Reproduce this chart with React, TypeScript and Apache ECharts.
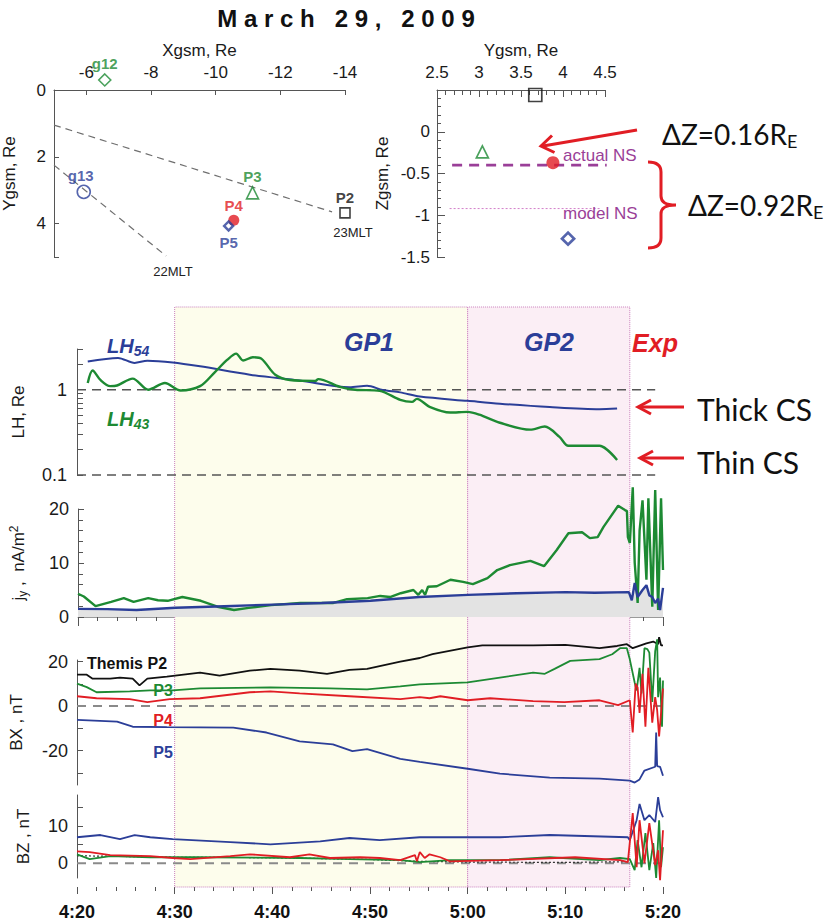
import React, { useEffect, useRef } from "react";
import * as echarts from "echarts";

const SANS = "'Liberation Sans', Arial, Helvetica, sans-serif";
const CAL = "Lato, 'Open Sans', 'DejaVu Sans', sans-serif";
const BLUE = "#2b3e98";
const GREEN = "#1d8a33";
const RED = "#e11d24";
const BLACK = "#111111";
const PURPLE = "#9a3f98";
const AXIS = "#555555";

// ---------- Panel a: GSM X–Y positions ----------
const xyNames = ["g12", "g13", "P3", "P4", "P5", "P2"];
const xyX = [-6.57, -5.92, -11.14, -10.56, -10.4, -14.0];
const xyY = [-0.3, 3.05, 3.08, 3.9, 4.07, 3.68];
const mlt23Line = [[-5, 1.05], [-13.6, 3.65]];
const mlt22Line = [[-5, 2.25], [-8.47, 4.97]];
const xyXTicks = [-6, -8, -10, -12, -14];
const xyYLabels = [0, 2, 4];
const xyYTicks = [0, 2, 4, 5];

// ---------- Panel b: GSM Y–Z positions ----------
const yzNames = ["P2", "P3", "P4", "P5"];
const yzY = [3.67, 3.04, 3.88, 4.06];
const yzZ = [0.44, -0.24, -0.37, -1.28];
const actualNS = [[2.68, -0.4], [4.52, -0.4]];
const modelNS = [[2.65, -0.92], [4.45, -0.92]];
const yzZLabels = [-1.5, -1, -0.5, 0];

// ---------- Time series (minutes after 4:20 UT) ----------
const phaseEdges = [10, 40, 56.6]; // GP1 start, GP2 start, expansion onset
const lhRefLevels = [1, 0.1];
const lhRefEnd = 59.2;

const lh54 = [
  [1.1, 2.14], [4.2, 2.36], [5.9, 2.06], [7.2, 2.19], [9.8, 2.09], [12.6, 1.88],
  [17.7, 1.5], [22.8, 1.28], [27.9, 1.07], [29.7, 1.11], [31.3, 0.99], [33.1, 0.93],
  [35.1, 0.83], [40, 0.74], [43.3, 0.685], [48.4, 0.625], [53.5, 0.59], [55.3, 0.6],
];
const lh43 = [
  [1.1, 1.2], [1.6, 1.68], [2.4, 1.3], [3.4, 1.1], [4.1, 1.12], [5.7, 1.35], [7.3, 1.0],
  [9.0, 1.2], [10.6, 0.98], [12.6, 1.1], [14.1, 1.6], [15.4, 2.25], [16.3, 2.65], [17.0, 2.2],
  [18.0, 2.4], [18.9, 2.3], [20.3, 1.5], [21.8, 1.3], [24.4, 1.27], [24.7, 1.33], [26.9, 1.08],
  [28.5, 1.0], [31.0, 0.97], [33.1, 0.76], [34.3, 0.72], [34.8, 0.78], [36.1, 0.63],
  [38.2, 0.54], [40.0, 0.55], [41.2, 0.51], [43.3, 0.41], [46.4, 0.34], [47.9, 0.37],
  [49.4, 0.28], [50.3, 0.22], [52.5, 0.22], [53.5, 0.22], [55.3, 0.15],
];

const jyBlue = [
  [0, 1.5], [3, 1.45], [6, 1.3], [10, 1.7], [15, 2.0], [20, 2.3], [25, 2.6], [30, 3.0],
  [35, 3.7], [40, 4.1], [45, 4.4], [50, 4.6], [53, 4.5], [56.5, 4.6], [56.8, 3.1], [57.1, 6.3],
  [57.4, 3.7], [57.9, 5.0], [58.3, 5.9], [58.6, 4.0], [58.9, 3.7], [59.2, 2.6], [59.5, 3.4],
  [59.7, 1.3], [60, 5.4],
];
const jyGreen = [
  [0, 4.3], [0.6, 3.8], [1.8, 2.0], [3.4, 2.8], [4.7, 3.5], [5.7, 2.8], [7.2, 3.5], [8.2, 3.1],
  [9.2, 3.0], [10.7, 3.7], [12.6, 3.0], [14.3, 1.9], [16.0, 1.3], [17.5, 1.7], [19.8, 2.2],
  [22.8, 2.6], [26.2, 2.6], [27.6, 3.3], [29.7, 3.5], [31.0, 3.9], [32.0, 3.7], [33.1, 4.4],
  [34.4, 5.0], [34.9, 4.1], [35.3, 5.0], [35.6, 4.1], [35.9, 5.6], [36.8, 5.7], [38.2, 6.9],
  [39.5, 6.5], [40.5, 6.1], [42.0, 7.2], [43.0, 8.7], [44.3, 9.6], [46.4, 10.4], [47.8, 9.4],
  [49.1, 12.4], [50.3, 15.5], [51.7, 15.7], [52.5, 14.6], [53.3, 14.8], [53.9, 16.7],
  [55.4, 20.6], [56.1, 19.8], [56.3, 19.6], [56.4, 14.8], [56.6, 13.7], [56.9, 24], [57.1, 10],
  [57.4, 2.6], [57.6, 16], [57.9, 21.6], [58.3, 6.9], [58.5, 22], [58.9, 1.9], [59.2, 23.5],
  [59.5, 1.3], [59.8, 22], [60, 8.7],
];

const bxP2 = [
  [0, 14.1], [1.0, 14.1], [1.6, 12.3], [3.4, 12.3], [4.4, 12.8], [5.7, 12.3], [6.4, 9.3],
  [7.2, 12.3], [9.2, 13.2], [12.6, 15.0], [14.6, 13.7], [17.7, 15.9], [19.8, 16.7], [22.8, 15.9],
  [25.6, 14.5], [27.9, 16.3], [29.7, 16.7], [33.1, 20.0], [35.1, 21.6], [36.4, 23.3], [40, 26.4],
  [41.5, 27.3], [46.7, 27.3], [50, 27.5], [53.5, 26.0], [55.3, 27], [56.3, 27.8], [56.9, 26],
  [58.3, 28.2], [59.0, 29], [59.5, 27.8], [59.6, 31], [59.8, 27.3], [60, 27.3],
];
const bxP3 = [
  [0, 10.1], [1.0, 8.5], [2.0, 6.2], [5.4, 6.6], [7.5, 7.0], [9.8, 7.0], [12.6, 7.9], [19.8, 8.4],
  [25.9, 7.9], [29.7, 7.5], [33.1, 8.8], [35.1, 9.7], [40, 10.6], [43.3, 12.8], [46.7, 15.0],
  [47.9, 14.5], [48.9, 16.7], [50.5, 20.3], [53.5, 21.1], [54.8, 23.3], [55.6, 26], [56.3, 26],
  [56.6, 21], [57.1, 10.6], [57.3, 7.0], [57.6, 17.2], [57.8, 5.7], [58.1, 26], [58.4, 25.6],
  [58.6, 24], [58.9, 1.8], [59.2, 24.7], [59.4, 30], [59.5, 4], [59.7, 12.8], [59.9, -9.3],
  [60, 11.5],
];
const bxP4 = [
  [0, 4.4], [2.0, 3.5], [5.4, 3.1], [7.2, 1.8], [9.5, 3.1], [12.6, 3.5], [17.7, 6.2], [19.8, 6.6],
  [22.8, 5.7], [27.9, 4.4], [33.1, 3.1], [35.1, 4.0], [36.1, 3.5], [37.2, 4.4], [40, 2.6],
  [42.3, 3.5], [46.7, 2.2], [49.9, 1.8], [53.5, 2.6], [55.4, 0.4], [56.6, 2.6], [56.9, -11.9],
  [57.2, 10.1], [57.4, 8.4], [57.6, -3.1], [57.9, 14.5], [58.2, -9.3], [58.5, 17.2], [58.9, -7.5],
  [59.2, 4], [59.4, -1.8], [59.6, -13.7], [59.8, -3], [60, 7.9],
];
const bxP5 = [
  [0, -6.2], [4.1, -7], [5.7, -9.3], [9.2, -9.5], [16, -9.7], [19.4, -11.9], [22.8, -15.9],
  [26.2, -17.2], [28.2, -20.3], [29.7, -19.4], [33.1, -23.8], [35.1, -25.1], [40, -28.2],
  [43.3, -30.4], [48.4, -32.2], [53.5, -32.6], [56.6, -33.5], [57.1, -34.4], [57.6, -33],
  [58.1, -29], [59.2, -27.3], [59.3, -11.9], [59.4, -27], [59.7, -27.3], [60, -31.3],
];

const bzP5 = [
  [0, 7.0], [2.4, 7.6], [4.4, 6.5], [5.9, 7.6], [7.5, 7.0], [9.8, 6.5], [15.7, 5.7], [19.8, 5.1],
  [24.9, 5.9], [27.9, 6.8], [31, 6.2], [35.1, 7.0], [43.3, 7.0], [48.4, 7.6], [56.4, 7.0],
  [56.6, 6.2], [57.3, 11.6], [57.6, 16], [58.1, 11.6], [58.6, 13], [59.2, 11.1], [59.5, 17.8],
  [59.7, 14.3], [60, 12.4],
];
const bzP4 = [
  [0, 3.2], [1.3, 3.0], [3.4, 2.2], [7.5, 1.9], [9.8, 1.4], [11.6, 1.1], [15.7, 1.9], [17.7, 2.4],
  [21.8, 1.6], [23.8, 2.4], [25.9, 1.4], [29, 1.6], [31, 1.4], [33.1, 0.8], [34.6, 2.2],
  [34.8, 0.5], [35.1, 3.0], [35.6, 1.4], [36.1, 2.4], [37.2, 1.6], [38.2, 0.5], [43.3, 0.8],
  [51, 1.6], [55.6, 0.8], [56.4, 0.3], [56.9, 13.5], [57.3, -1.1], [57.6, 11.6], [58.1, 0],
  [58.6, 10.8], [59.2, -0.5], [59.5, 3.5], [59.7, -4.6], [60, 8.9],
];
const bzP3 = [
  [0, 2.4], [1.3, 1.1], [3.4, 1.9], [7.5, 1.6], [12.6, 1.6], [22.8, 1.4], [27.9, 1.1], [33.1, 0.8],
  [35.1, 0.3], [38.2, 0.8], [43.3, 0.8], [48.4, 1.6], [53.5, 0.8], [55.6, 1.4], [56.6, 1.1],
  [57.1, -1.9], [57.4, 6.2], [57.8, -1.1], [58.2, 8.1], [58.6, -1.9], [59, 5.4], [59.3, -4],
  [59.6, 11.6], [59.8, -1.1], [60, 4.3],
];
const bzP2 = [
  [0, 2.0], [5, 1.8], [10, 1.6], [20, 1.5], [30, 1.0], [35, 0.5], [40, 0.3], [50, 0.2], [56.4, 0.4],
];

const zeroLine = [[0, 0], [60, 0]];

// ---------- helpers ----------
function fmtTime(v: number) {
  const m = 260 + Math.round(v);
  return `${Math.floor(m / 60)}:${String(m % 60).padStart(2, "0")}`;
}

const markerStyle: Record<string, any> = {
  g12: { symbol: "diamond", size: 12, color: GREEN, filled: false, pos: "top", offset: [0, 0] },
  g13: { symbol: "circle", size: 13, color: BLUE, filled: false, pos: "top", offset: [-3, 0] },
  P3: { symbol: "triangle", size: 12, color: GREEN, filled: false, pos: "top", offset: [0, 0] },
  P4: { symbol: "circle", size: 11, color: RED, filled: true, pos: "top", offset: [0, 0] },
  P5: { symbol: "diamond", size: 9, color: BLUE, filled: false, pos: "bottom", offset: [0, 1] },
  P2: { symbol: "rect", size: 10, color: BLACK, filled: false, pos: "top", offset: [0, 0] },
};
const yzStyle: Record<string, any> = {
  P2: { symbol: "rect", size: 13, color: BLACK, filled: false },
  P3: { symbol: "triangle", size: 12, color: GREEN, filled: false },
  P4: { symbol: "circle", size: 13, color: RED, filled: true },
  P5: { symbol: "diamond", size: 12, color: BLUE, filled: false },
};

echarts.graphic.registerShape(
  "brace",
  echarts.graphic.extendPath(
    "M0 0 C8 0 13 3 13 10 L13 34 C13 40 17 43 28 43 C17 43 13 46 13 52 L13 76 C13 83 8 86 0 86",
    {}
  )
);

const tickLbl = (size: number) => ({ color: "#1a1a1a", fontSize: size, fontFamily: SANS });
const nameStyle = { color: "#1a1a1a", fontSize: 17, fontFamily: SANS };
const axLine = { show: true, onZero: false, lineStyle: { color: AXIS, width: 1 } };
const tkLine = { color: AXIS, width: 1 };

const mainX = (gi: number, extra: any = {}) => ({
  gridIndex: gi,
  type: "value",
  min: 0,
  max: 60,
  interval: 10,
  splitLine: { show: false },
  axisLine: { show: false, onZero: false },
  axisTick: { show: false },
  axisLabel: { show: false },
  ...extra,
});

const lineSeries = (xi: number, data: any, color: string, width: number, extra: any = {}) => ({
  type: "line",
  xAxisIndex: xi,
  yAxisIndex: xi,
  data,
  symbol: "none",
  silent: true,
  clip: false,
  lineStyle: { color, width },
  z: 3,
  ...extra,
});

const txt = (x: number, y: number, text: string, font: string, fill: string, align = "left", extra: any = {}) => ({
  type: "text",
  x,
  y,
  z: 100,
  silent: true,
  style: { text, font, fill, textAlign: align, textVerticalAlign: "middle", verticalAlign: "middle", ...extra },
});

const arrowHead = (pts: number[][]) => ({
  type: "polyline",
  silent: true,
  z: 100,
  shape: { points: pts },
  style: { stroke: RED, lineWidth: 3, fill: "none" },
});

const richSub = (x: number, y: number, main: string, sub: string, color: string, big: number, small: number, family: string, bold: boolean, pad: number) => ({
  type: "text",
  x,
  y,
  z: 100,
  silent: true,
  style: {
    text: `{a|${main}}{s|${sub}}`,
    textVerticalAlign: "middle",
    verticalAlign: "middle",
    rich: {
      a: { fontSize: big, fontFamily: family, fill: color, fontWeight: bold ? "bold" : "normal", fontStyle: bold ? "italic" : "normal" },
      s: { fontSize: small, fontFamily: family, fill: color, fontWeight: bold ? "bold" : "normal", fontStyle: bold ? "italic" : "normal", padding: [pad, 0, 0, 0] },
    },
  },
});

function buildOption() {
  return {
    animation: false,
    backgroundColor: "#ffffff",
    grid: [
      { left: 52, top: 90, width: 293, height: 167 },
      { left: 437, top: 90, width: 168, height: 167 },
      { left: 77, top: 307, width: 586, height: 580 },
      { left: 77, top: 349, width: 586, height: 126 },
      { left: 77, top: 509, width: 586, height: 108 },
      { left: 77, top: 660, width: 586, height: 125 },
      { left: 77, top: 795, width: 586, height: 83 },
    ],
    xAxis: [
      {
        gridIndex: 0, type: "value", position: "top", min: -14, max: -5, inverse: true,
        axisLine: axLine,
        axisTick: { show: true, inside: true, length: 5, customValues: xyXTicks, lineStyle: tkLine },
        axisLabel: { customValues: xyXTicks, margin: 9, ...tickLbl(17) },
        splitLine: { show: false },
        name: "Xgsm, Re", nameLocation: "middle", nameGap: 31, nameTextStyle: nameStyle,
      },
      {
        gridIndex: 1, type: "value", position: "top", min: 2.5, max: 4.5, interval: 0.5,
        axisLine: axLine,
        axisTick: { show: true, inside: true, length: 7, lineStyle: tkLine },
        minorTick: { show: true, splitNumber: 5, length: 5, lineStyle: tkLine },
        axisLabel: { margin: 9, ...tickLbl(17) },
        splitLine: { show: false },
        name: "Ygsm, Re", nameLocation: "middle", nameGap: 31, nameTextStyle: nameStyle,
      },
      mainX(2, { show: false }),
      mainX(3),
      mainX(4, {
        axisLine: { show: true, onZero: false, lineStyle: { color: "#9a9a9a", width: 1 } },
        axisTick: { show: true, length: 9, lineStyle: tkLine },
        minorTick: { show: true, splitNumber: 5, length: 4, lineStyle: tkLine },
      }),
      mainX(5),
      mainX(6, {
        offset: 9,
        axisTick: { show: true, length: 7, lineStyle: tkLine },
        minorTick: { show: true, splitNumber: 5, length: 4, lineStyle: tkLine },
        axisLabel: { show: true, formatter: fmtTime, margin: 16, fontWeight: "bold", fontSize: 18, color: "#111", fontFamily: SANS },
      }),
    ],
    yAxis: [
      {
        gridIndex: 0, type: "value", min: 0, max: 5, inverse: true,
        axisLine: axLine,
        axisTick: { show: true, inside: true, length: 5, customValues: xyYTicks, lineStyle: tkLine },
        axisLabel: { customValues: xyYLabels, margin: 8, ...tickLbl(17) },
        splitLine: { show: false },
        name: "Ygsm, Re", nameLocation: "middle", nameGap: 36, nameRotate: 90, nameTextStyle: nameStyle,
      },
      {
        gridIndex: 1, type: "value", min: -1.5, max: 0.5, interval: 0.5,
        axisLine: axLine,
        axisTick: { show: true, inside: true, length: 8, lineStyle: tkLine },
        minorTick: { show: true, splitNumber: 5, length: 4, lineStyle: tkLine },
        axisLabel: { customValues: yzZLabels, margin: 7, ...tickLbl(17) },
        splitLine: { show: false },
        name: "Zgsm, Re", nameLocation: "middle", nameGap: 46, nameRotate: 90, nameTextStyle: nameStyle,
      },
      { gridIndex: 2, type: "value", min: 0, max: 1, show: false },
      {
        gridIndex: 3, type: "log", logBase: 10, min: 0.1, max: 3,
        axisLine: axLine,
        axisTick: { show: true, inside: true, length: 6, customValues: [0.1, 0.2, 0.3, 0.4, 0.5, 0.6, 0.7, 0.8, 0.9, 1, 2, 3], lineStyle: tkLine },
        axisLabel: { customValues: [0.1, 1], margin: 10, formatter: (v: number) => (v < 0.5 ? "0.1" : "1"), ...tickLbl(18) },
        splitLine: { show: false },
        minorTick: { show: false },
        name: "LH, Re", nameLocation: "middle", nameGap: 50, nameRotate: 90, nameTextStyle: nameStyle,
      },
      {
        gridIndex: 4, type: "value", min: 0, max: 20, interval: 10,
        axisLine: axLine,
        axisTick: { show: true, inside: true, length: 6, lineStyle: tkLine },
        minorTick: { show: true, splitNumber: 5, length: 5, lineStyle: tkLine },
        axisLabel: { margin: 9, ...tickLbl(18) },
        splitLine: { show: false },
        name: "{a|j}{s|y}{a| ,  nA/m}{p|2}", nameLocation: "middle", nameGap: 49, nameRotate: 90,
        nameTextStyle: {
          ...nameStyle,
          rich: {
            a: { fontSize: 17, fontFamily: SANS, color: "#1a1a1a" },
            s: { fontSize: 12, fontFamily: SANS, color: "#1a1a1a", padding: [9, 0, 0, 0] },
            p: { fontSize: 12, fontFamily: SANS, color: "#1a1a1a", padding: [0, 0, 9, 0] },
          },
        },
      },
      {
        gridIndex: 5, type: "value", min: -35.5, max: 20.7,
        axisLine: axLine,
        axisTick: { show: true, inside: true, length: 6, customValues: [-30, -20, -10, 0, 10, 20], lineStyle: tkLine },
        axisLabel: { customValues: [-20, 0, 20], margin: 9, ...tickLbl(18) },
        splitLine: { show: false },
        name: "BX , nT", nameLocation: "middle", nameGap: 52, nameRotate: 90, nameTextStyle: nameStyle,
      },
      {
        gridIndex: 6, type: "value", min: -4, max: 18.4,
        axisLine: axLine,
        axisTick: { show: true, inside: true, length: 6, customValues: [0, 5, 10, 15], lineStyle: tkLine },
        axisLabel: { customValues: [0, 10], margin: 9, ...tickLbl(18) },
        splitLine: { show: false },
        name: "BZ , nT", nameLocation: "middle", nameGap: 45, nameRotate: 90, nameTextStyle: nameStyle,
      },
    ],
    series: [
      // phase shading
      {
        type: "line", xAxisIndex: 2, yAxisIndex: 2, data: [[0, 0.5]], symbol: "none",
        lineStyle: { opacity: 0 }, silent: true, z: 1,
        markArea: {
          silent: true,
          itemStyle: { borderColor: "#c97fbd", borderWidth: 1, borderType: "dotted" },
          data: [
            [
              { xAxis: phaseEdges[0], itemStyle: { color: "#fdfdec", borderColor: "#c97fbd", borderWidth: 1, borderType: "dotted" } },
              { xAxis: phaseEdges[1] },
            ],
            [
              { xAxis: phaseEdges[1], itemStyle: { color: "#fbeef5", borderColor: "#c97fbd", borderWidth: 1, borderType: "dotted" } },
              { xAxis: phaseEdges[2] },
            ],
          ],
        },
      },
      // panel a
      lineSeries(0, mlt23Line, "#6f6f6f", 1.2, { lineStyle: { color: "#6f6f6f", width: 1.2, type: [7, 5] } }),
      lineSeries(0, mlt22Line, "#6f6f6f", 1.2, { lineStyle: { color: "#6f6f6f", width: 1.2, type: [7, 5] } }),
      {
        type: "scatter", xAxisIndex: 0, yAxisIndex: 0, silent: true, clip: false, z: 5,
        data: xyNames.map((n, i) => {
          const st = markerStyle[n];
          return {
            name: n,
            value: [xyX[i], xyY[i]],
            symbol: st.symbol,
            symbolSize: st.size,
            itemStyle: {
              color: st.filled ? st.color : "rgba(255,255,255,0)",
              borderColor: st.color,
              borderWidth: st.filled ? 0 : n === "P5" ? 2.4 : 1.6,
            },
            label: {
              show: true, position: st.pos, distance: 2, offset: st.offset, formatter: n,
              color: st.color, fontWeight: "bold", fontSize: 15, fontFamily: SANS,
            },
          };
        }),
      },
      // panel b
      lineSeries(1, actualNS, PURPLE, 2.6, { lineStyle: { color: PURPLE, width: 2.6, type: [10, 7] } }),
      lineSeries(1, modelNS, "#d27ec9", 1, { lineStyle: { color: "#d27ec9", width: 1, type: [2, 2] } }),
      {
        type: "scatter", xAxisIndex: 1, yAxisIndex: 1, silent: true, clip: false, z: 5,
        data: yzNames.map((n, i) => {
          const st = yzStyle[n];
          return {
            name: n,
            value: [yzY[i], yzZ[i]],
            symbol: st.symbol,
            symbolSize: st.size,
            itemStyle: {
              color: st.filled ? st.color : "rgba(255,255,255,0)",
              borderColor: st.color,
              borderWidth: st.filled ? 0 : n === "P5" ? 2.8 : 1.7,
            },
          };
        }),
      },
      // LH panel
      ...lhRefLevels.map((lv) =>
        lineSeries(3, [[0, lv], [lhRefEnd, lv]], "#555", 1.6, { z: 2, lineStyle: { color: "#555", width: 1.6, type: [9, 6] } })
      ),
      lineSeries(3, lh54, BLUE, 2, { smooth: 0.3 }),
      lineSeries(3, lh43, GREEN, 2.4, { smooth: 0.3 }),
      // jy panel
      lineSeries(4, jyBlue, BLUE, 0, { z: 2, clip: true, lineStyle: { width: 0, opacity: 0 }, areaStyle: { color: "#e3e3e3", opacity: 1, origin: "start" } }),
      lineSeries(4, jyGreen, GREEN, 2.4),
      lineSeries(4, jyBlue, BLUE, 2.4),
      // BX panel
      lineSeries(5, zeroLine, "#8a8a8a", 2, { z: 2, lineStyle: { color: "#8a8a8a", width: 2, type: [9, 7] } }),
      lineSeries(5, bxP2, BLACK, 1.8),
      lineSeries(5, bxP3, GREEN, 1.8),
      lineSeries(5, bxP4, RED, 1.8),
      lineSeries(5, bxP5, BLUE, 1.8),
      // BZ panel
      lineSeries(6, zeroLine, "#8a8a8a", 2, { z: 2, lineStyle: { color: "#8a8a8a", width: 2, type: [9, 7] } }),
      lineSeries(6, bzP5, BLUE, 1.8),
      lineSeries(6, bzP2, "#333", 1.2, { lineStyle: { color: "#333", width: 1.2, type: [2, 2] } }),
      lineSeries(6, bzP3, GREEN, 1.8),
      lineSeries(6, bzP4, RED, 1.8),
    ],
    graphic: [
      txt(346, 18, "M a r c h   2 9 ,   2 0 0 9", `bold 24px ${SANS}`, "#111", "center"),
      // panel a annotations
      txt(353, 232, "23MLT", `13px ${SANS}`, "#222", "center"),
      txt(173, 271, "22MLT", `13px ${SANS}`, "#222", "center"),
      // panel b annotations
      txt(563, 155, "actual NS", `17px ${SANS}`, PURPLE),
      txt(563, 213, "model NS", `17px ${SANS}`, PURPLE),
      { type: "line", z: 100, silent: true, shape: { x1: 637, y1: 130, x2: 543, y2: 146 }, style: { stroke: RED, lineWidth: 3 } },
      arrowHead([[552, 135.5], [541, 146], [554.5, 152.5]]),
      { type: "brace", z: 100, x: 648, y: 162, silent: true, style: { stroke: RED, lineWidth: 3, fill: "none" } },
      richSub(662, 134, "ΔZ=0.16R", "E", "#111", 28, 18, CAL, false, 13),
      richSub(688, 205, "ΔZ=0.92R", "E", "#111", 28, 18, CAL, false, 13),
      // phases
      txt(369, 342, "GP1", `italic bold 25px ${SANS}`, BLUE, "center"),
      txt(549, 342, "GP2", `italic bold 25px ${SANS}`, BLUE, "center"),
      txt(655, 343, "Exp", `italic bold 25px ${SANS}`, RED, "center"),
      // LH labels
      richSub(107, 346, "LH", "54", BLUE, 20, 14, SANS, true, 10),
      richSub(107, 419, "LH", "43", GREEN, 20, 14, SANS, true, 10),
      // CS arrows
      { type: "line", z: 100, silent: true, shape: { x1: 640, y1: 407, x2: 684, y2: 407 }, style: { stroke: RED, lineWidth: 3 } },
      arrowHead([[651, 400], [638, 407], [651, 414]]),
      txt(697, 409, "Thick CS", `30px ${CAL}`, "#111"),
      { type: "line", z: 100, silent: true, shape: { x1: 642, y1: 458, x2: 684, y2: 458 }, style: { stroke: RED, lineWidth: 3 } },
      arrowHead([[653, 451], [640, 458], [653, 465]]),
      txt(697, 462, "Thin CS", `30px ${CAL}`, "#111"),
      // BX labels
      txt(87, 663, "Themis P2", `bold 16px ${SANS}`, BLACK),
      txt(163, 690, "P3", `bold 16px ${SANS}`, GREEN, "center"),
      txt(163, 720, "P4", `bold 16px ${SANS}`, RED, "center"),
      txt(163, 752, "P5", `bold 16px ${SANS}`, BLUE, "center"),
    ],
  };
}

export default function App() {
  const ref = useRef<HTMLDivElement>(null);
  useEffect(() => {
    if (!ref.current) return;
    const chart = echarts.init(ref.current, null, { renderer: "svg" });
    chart.setOption(buildOption() as any);
    return () => chart.dispose();
  }, []);
  return (
    <div
      ref={ref}
      style={{ position: "absolute", left: 0, top: 0, width: 839, height: 924, background: "#fff" }}
    />
  );
}
